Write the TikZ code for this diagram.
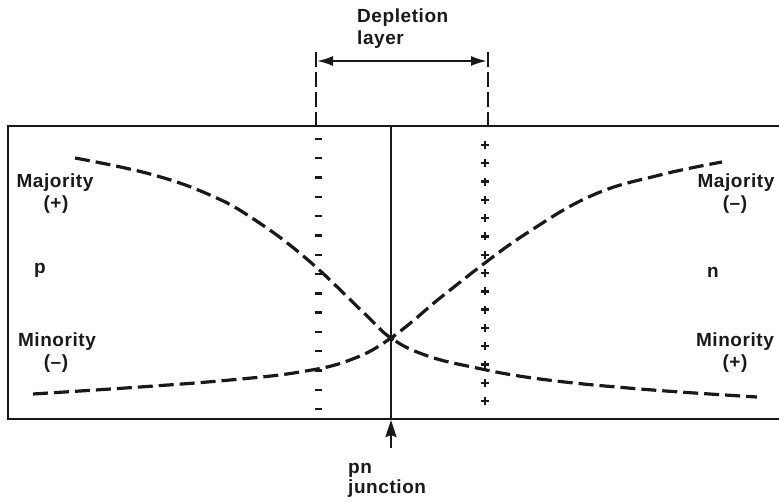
\documentclass[tikz,border=0pt]{standalone}
\usepackage{fontspec}
\setmainfont{Liberation Sans}[LetterSpace=3]
\usetikzlibrary{arrows.meta}
\begin{document}
\begin{tikzpicture}[x=1pt,y=-1pt,
  lbl/.style={font=\fontsize{19}{22}\selectfont\bfseries, inner sep=0pt, text=black!90},
  curve/.style={line width=3.2pt, dash pattern=on 15pt off 6pt, black!90},
  frame/.style={line width=2.6pt, black!90},
  dimline/.style={line width=2.1pt, black!90},
  chg/.style={line width=2.4pt, black!90}]
\useasboundingbox (0,0) rectangle (779,502);
% box
\draw[frame] (781,126) -- (8,126) -- (8,419) -- (781,419);
% junction
\coordinate (jt) at (391,126);
\coordinate (jb) at (391,419);
\draw[frame] (jt) -- (jb);
\coordinate (jarr) at (391,448);
\coordinate (jtip) at (391,420);
\draw[dimline, line width=2.5pt, -{Stealth[length=17pt,width=11pt,inset=2pt]}] (jarr) -- (jtip);
\node[lbl, anchor=west] (pn) at (348,470) {pn};
\node[lbl, anchor=west] (junc) at (348,489) {junction};
% depletion layer
\coordinate (dl) at (316,52);
\coordinate (dlb) at (316,126);
\coordinate (dr) at (488,52);
\coordinate (drb) at (488,126);
\draw[dimline, dash pattern=on 15pt off 5pt] (dl) -- (dlb);
\draw[dimline, dash pattern=on 15pt off 5pt] (dr) -- (drb);
\coordinate (al) at (317,61);
\coordinate (ar) at (487,61);
\draw[dimline, {Latex[length=16pt,width=10pt]}-{Latex[length=16pt,width=10pt]}] (al) -- (ar);
\node[lbl, anchor=west] (dep) at (357,18) {Depletion};
\node[lbl, anchor=west] (lay) at (357,40) {layer};
% charges
\foreach \y in {139,158.3,177.6,196.9,216.2,235.5,254.8,274.1,293.4,312.7,332,351.3,370.6,389.9,409.2}
  \draw[chg] (314.5,\y) -- (321.5,\y);
\foreach \y in {145,163.3,181.6,199.9,218.2,236.5,254.8,273.1,291.4,309.7,328,346.3,364.6,382.9,401.2}
  \draw[chg] (481,\y) -- (489,\y) (485,\y-4) -- (485,\y+4);
% curves
\draw[curve] plot[smooth, tension=0.7] coordinates {(75,158) (150,174) (210,195) (255,220) (308,260) (365,314) (391,338) (425,355) (472,367) (540,379) (640,389) (757,397)};
\draw[curve] plot[smooth, tension=0.7] coordinates {(33,394) (140,387) (230,380) (300,372) (350,360) (391,338) (440,298) (473,272) (527,233) (593,195) (660,175) (722,162)};
\fill[black!90] (391,338) circle (3.5pt);
% labels
\node[lbl] (majl) at (55,183) {Majority};
\node[lbl] (majlc) at (56,205) {(+)};
\node[lbl] (pl) at (40,270) {p};
\node[lbl] (minl) at (57,342) {Minority};
\node[lbl] (minlc) at (56,364) {(--)};
\node[lbl] (majr) at (736,183) {Majority};
\node[lbl] (majrc) at (735,205) {(--)};
\node[lbl] (nr) at (713,272) {n};
\node[lbl] (minr) at (735,342) {Minority};
\node[lbl] (minrc) at (735,364) {(+)};
\end{tikzpicture}
\end{document}
